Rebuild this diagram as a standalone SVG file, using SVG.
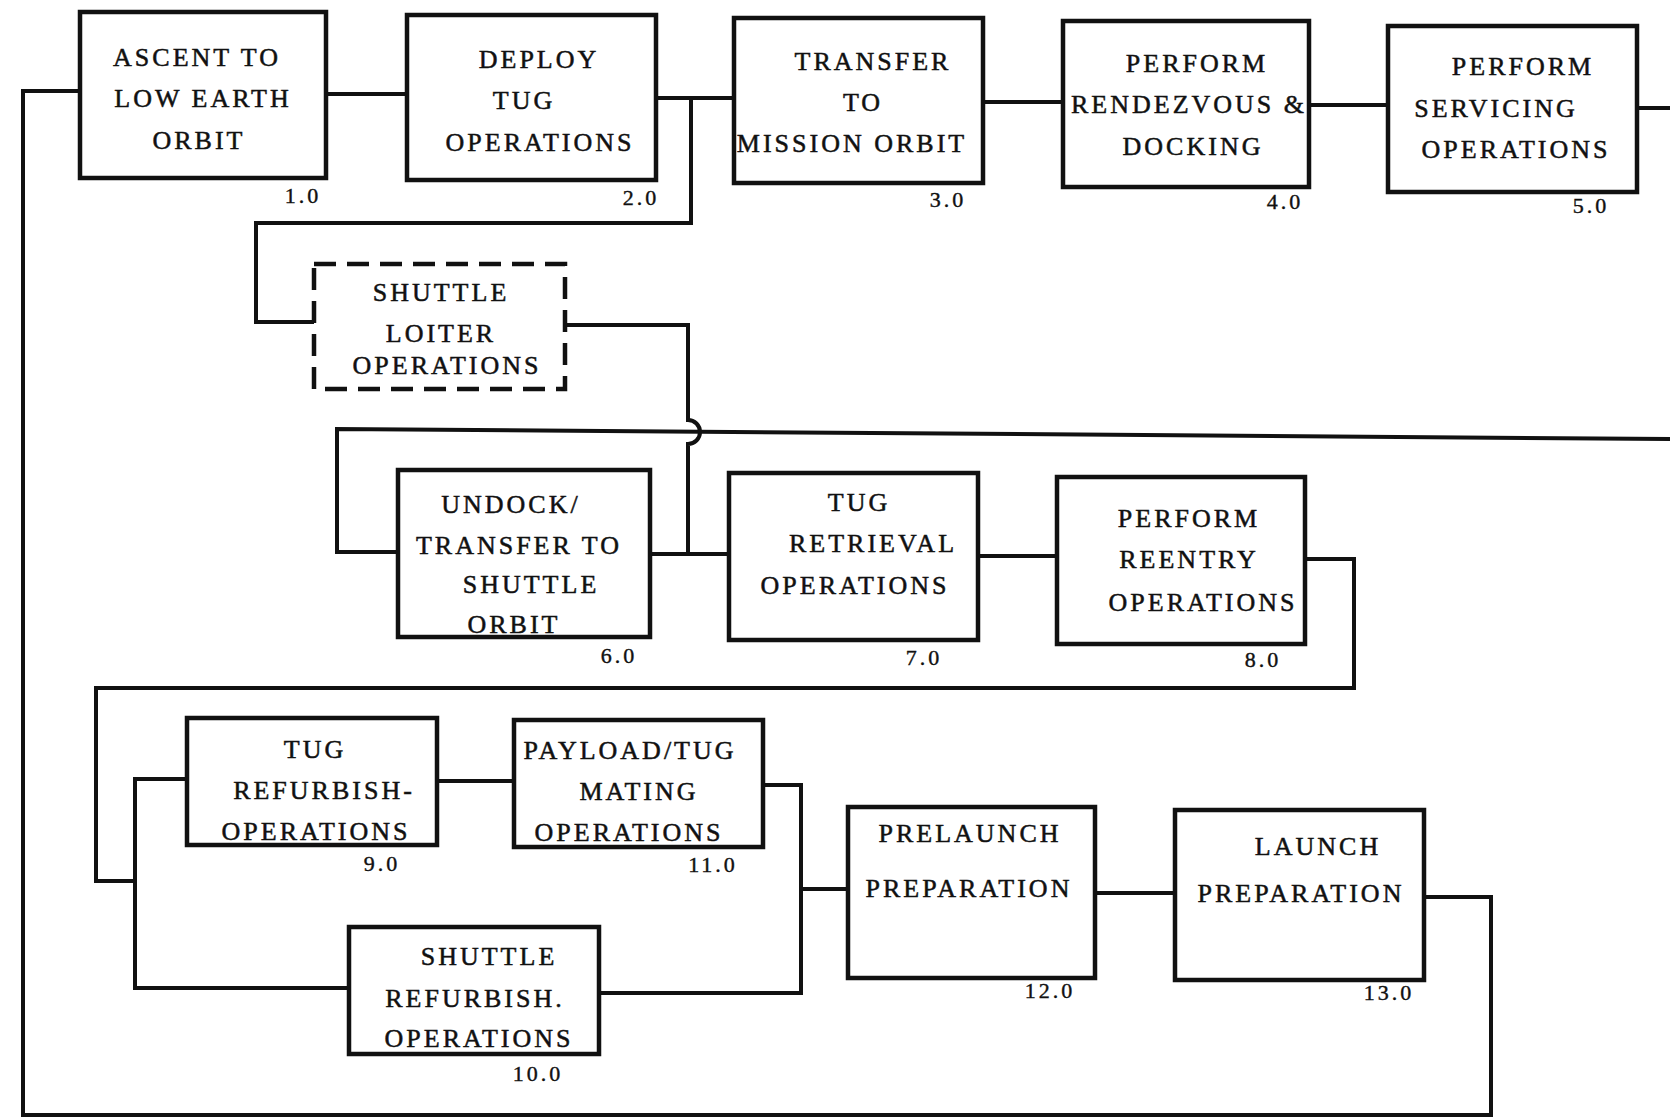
<svg xmlns="http://www.w3.org/2000/svg" width="1670" height="1120" viewBox="0 0 1670 1120">
<style>
.box{fill:#fff;stroke:#111;stroke-width:4.5}
.dash{fill:#fff;stroke:#111;stroke-width:4.5;stroke-dasharray:22 11}
.c{fill:none;stroke:#111;stroke-width:4;stroke-linejoin:miter}
.t{font-family:"Liberation Serif","DejaVu Serif",serif;font-size:26px;letter-spacing:3px;fill:#111;stroke:#111;stroke-width:0.5;text-anchor:middle}
.n{font-family:"Liberation Serif","DejaVu Serif",serif;font-size:22px;letter-spacing:3px;fill:#111;stroke:#111;stroke-width:0.4;text-anchor:middle}
</style>
<rect width="1670" height="1120" fill="#fff"/>
<g id="connectors">
<path class="c" d="M80,91 H23 V1115 H1491 V897 H1424"/>
<path class="c" d="M326,94 H407"/>
<path class="c" d="M656,98 H734"/>
<path class="c" d="M691,98 V223 H256 V322 H314"/>
<path class="c" d="M565,325 H688 V420 A12,12 0 0 1 688,444 V554"/>
<path class="c" d="M983,102 H1063"/>
<path class="c" d="M1309,105 H1388"/>
<path class="c" d="M1637,108 H1670"/>
<path class="c" d="M1670,439 L337,429 V552 H398"/>
<path class="c" d="M650,554 H729"/>
<path class="c" d="M978,556 H1057"/>
<path class="c" d="M1305,559 H1354 V688 H96 V881 H135"/>
<path class="c" d="M187,779 H135 V988 H349"/>
<path class="c" d="M437,781 H514"/>
<path class="c" d="M763,785 H801 V993 H599"/>
<path class="c" d="M801,889 H848"/>
<path class="c" d="M1095,893 H1175"/>
</g>
<g id="n1"><rect class="box" x="80" y="12" width="246" height="166"/>
<text class="t" x="197" y="66">ASCENT TO</text><text class="t" x="203" y="107">LOW EARTH</text><text class="t" x="199" y="149">ORBIT</text>
<text class="n" x="303" y="203">1.0</text></g>
<g id="n2"><rect class="box" x="407" y="15" width="249" height="165"/>
<text class="t" x="539" y="68">DEPLOY</text><text class="t" x="524" y="109">TUG</text><text class="t" x="540" y="151">OPERATIONS</text>
<text class="n" x="641" y="205">2.0</text></g>
<g id="n3"><rect class="box" x="734" y="18" width="249" height="165"/>
<text class="t" x="873" y="70">TRANSFER</text><text class="t" x="863" y="111">TO</text><text class="t" x="852" y="152">MISSION ORBIT</text>
<text class="n" x="948" y="207">3.0</text></g>
<g id="n4"><rect class="box" x="1063" y="21" width="246" height="166"/>
<text class="t" x="1197" y="72">PERFORM</text><text class="t" x="1189" y="113">RENDEZVOUS &amp;</text><text class="t" x="1193" y="155">DOCKING</text>
<text class="n" x="1285" y="209">4.0</text></g>
<g id="n5"><rect class="box" x="1388" y="26" width="249" height="166"/>
<text class="t" x="1523" y="75">PERFORM</text><text class="t" x="1496" y="117">SERVICING</text><text class="t" x="1516" y="158">OPERATIONS</text>
<text class="n" x="1591" y="213">5.0</text></g>
<g id="loiter"><rect class="dash" x="314" y="264" width="251" height="125"/>
<text class="t" x="441" y="301">SHUTTLE</text><text class="t" x="441" y="342">LOITER</text><text class="t" x="447" y="374">OPERATIONS</text></g>
<g id="n6"><rect class="box" x="398" y="470" width="252" height="167"/>
<text class="t" x="511" y="513">UNDOCK/</text><text class="t" x="519" y="554">TRANSFER TO</text><text class="t" x="531" y="593">SHUTTLE</text><text class="t" x="514" y="633">ORBIT</text>
<text class="n" x="619" y="663">6.0</text></g>
<g id="n7"><rect class="box" x="729" y="473" width="249" height="167"/>
<text class="t" x="859" y="511">TUG</text><text class="t" x="873" y="552">RETRIEVAL</text><text class="t" x="855" y="594">OPERATIONS</text>
<text class="n" x="924" y="665">7.0</text></g>
<g id="n8"><rect class="box" x="1057" y="477" width="248" height="167"/>
<text class="t" x="1189" y="527">PERFORM</text><text class="t" x="1189" y="568">REENTRY</text><text class="t" x="1203" y="611">OPERATIONS</text>
<text class="n" x="1263" y="667">8.0</text></g>
<g id="n9"><rect class="box" x="187" y="718" width="250" height="127"/>
<text class="t" x="315" y="758">TUG</text><text class="t" x="324" y="799">REFURBISH-</text><text class="t" x="316" y="840">OPERATIONS</text>
<text class="n" x="382" y="871">9.0</text></g>
<g id="n11"><rect class="box" x="514" y="720" width="249" height="127"/>
<text class="t" x="630" y="759">PAYLOAD/TUG</text><text class="t" x="639" y="800">MATING</text><text class="t" x="629" y="841">OPERATIONS</text>
<text class="n" x="713" y="872">11.0</text></g>
<g id="n10"><rect class="box" x="349" y="927" width="250" height="127"/>
<text class="t" x="489" y="965">SHUTTLE</text><text class="t" x="475" y="1007">REFURBISH.</text><text class="t" x="479" y="1047">OPERATIONS</text>
<text class="n" x="538" y="1081">10.0</text></g>
<g id="n12"><rect class="box" x="848" y="807" width="247" height="171"/>
<text class="t" x="970" y="842">PRELAUNCH</text><text class="t" x="969" y="897">PREPARATION</text>
<text class="n" x="1050" y="998">12.0</text></g>
<g id="n13"><rect class="box" x="1175" y="810" width="249" height="170"/>
<text class="t" x="1318" y="855">LAUNCH</text><text class="t" x="1301" y="902">PREPARATION</text>
<text class="n" x="1389" y="1000">13.0</text></g>
</svg>
